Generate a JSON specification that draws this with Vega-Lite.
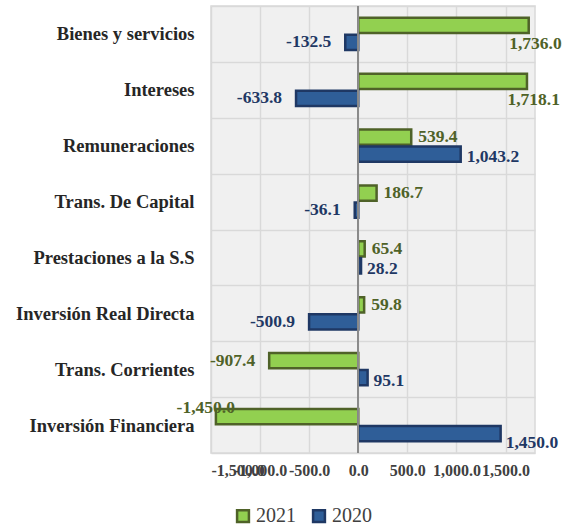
{
  "$schema": "https://vega.github.io/schema/vega-lite/v6.json",
  "width": 324,
  "height": 447,
  "autosize": {"type": "none"},
  "padding": {"left": 211, "top": 6, "right": 40, "bottom": 74},
  "background": "white",
  "config": {
    "font": "Liberation Serif",
    "locale": {"number": {"decimal": ".", "thousands": ",", "grouping": [3], "currency": ["$", ""], "minus": "-"}}
  },
  "view": {"fill": "#f0f0f0", "stroke": "#d9d9d9", "strokeWidth": 1.5},
  "data": {
    "values": [
      {"cat": "Bienes y servicios", "year": "2021", "value": 1736.0},
      {"cat": "Bienes y servicios", "year": "2020", "value": -132.5},
      {"cat": "Intereses", "year": "2021", "value": 1718.1},
      {"cat": "Intereses", "year": "2020", "value": -633.8},
      {"cat": "Remuneraciones", "year": "2021", "value": 539.4},
      {"cat": "Remuneraciones", "year": "2020", "value": 1043.2},
      {"cat": "Trans. De Capital", "year": "2021", "value": 186.7},
      {"cat": "Trans. De Capital", "year": "2020", "value": -36.1},
      {"cat": "Prestaciones a la S.S", "year": "2021", "value": 65.4},
      {"cat": "Prestaciones a la S.S", "year": "2020", "value": 28.2},
      {"cat": "Inversión Real Directa", "year": "2021", "value": 59.8},
      {"cat": "Inversión Real Directa", "year": "2020", "value": -500.9},
      {"cat": "Trans. Corrientes", "year": "2021", "value": -907.4},
      {"cat": "Trans. Corrientes", "year": "2020", "value": 95.1},
      {"cat": "Inversión Financiera", "year": "2021", "value": -1450.0},
      {"cat": "Inversión Financiera", "year": "2020", "value": 1450.0}
    ]
  },
  "encoding": {
    "y": {
      "field": "cat", "type": "nominal", "sort": null,
      "scale": {"paddingInner": 0, "paddingOuter": 0},
      "axis": {
        "title": null, "ticks": false, "domain": false, "grid": true, "tickBand": "extent",
        "gridColor": "#d9d9d9", "gridWidth": 1.5,
        "labelFont": "Liberation Serif", "labelFontWeight": "bold", "labelFontSize": 18.5,
        "labelColor": "#262626", "labelPadding": 17, "labelLimit": 300
      }
    },
    "yOffset": {
      "field": "year", "type": "nominal", "sort": ["2021", "2020"],
      "scale": {"paddingInner": 0.1, "paddingOuter": 0.7}
    }
  },
  "layer": [
    {
      "mark": {"type": "bar", "strokeWidth": 2.5},
      "encoding": {
        "x": {
          "field": "value", "type": "quantitative",
          "scale": {"domain": [-1500, 1800], "nice": false, "zero": false},
          "axis": {
            "title": null, "values": [-1500, -1000, -500, 0, 500, 1000, 1500], "format": ",.1f",
            "ticks": false, "domain": false, "grid": true, "gridColor": "#d9d9d9", "gridWidth": 1.5,
            "labelFont": "Liberation Serif", "labelFontWeight": "bold", "labelFontSize": 16,
            "labelColor": "#404040", "labelPadding": 9, "labelOverlap": false, "labelBound": false
          }
        },
        "fill": {
          "field": "year", "type": "nominal",
          "scale": {"domain": ["2021", "2020"], "range": ["#92d050", "#2f5e98"]},
          "legend": {
            "title": null, "orient": "none", "legendX": 22, "legendY": 500, "direction": "horizontal",
            "symbolType": "square", "symbolSize": 140, "symbolStrokeWidth": 2.5,
            "labelFont": "Liberation Serif", "labelFontSize": 20, "labelColor": "#404040",
            "columnPadding": 12, "labelOffset": 3
          }
        },
        "stroke": {
          "field": "year", "type": "nominal",
          "scale": {"domain": ["2021", "2020"], "range": ["#4f6228", "#1f3864"]},
          "legend": null
        }
      }
    },
    {
      "mark": {"type": "rule", "color": "#8c8c8c", "strokeWidth": 1},
      "encoding": {"x": {"datum": 0}, "y": null, "yOffset": null}
    },
    {
      "transform": [{"filter": "datum.value >= 0 && datum.value < 1400 && datum.year === '2021'"}],
      "mark": {"type": "text", "align": "left", "baseline": "middle", "dx": 7, "dy": 0, "font": "Liberation Serif", "fontWeight": "bold", "fontSize": 17.5, "color": "#4f6228"},
      "encoding": {
        "x": {"field": "value", "type": "quantitative"},
        "text": {"field": "value", "type": "quantitative", "format": ",.1f"}
      }
    },
    {
      "transform": [{"filter": "datum.value >= 0 && datum.value < 1400 && datum.year === '2020'"}],
      "mark": {"type": "text", "align": "left", "baseline": "middle", "dx": 6, "dy": 3, "font": "Liberation Serif", "fontWeight": "bold", "fontSize": 17.5, "color": "#1f3864"},
      "encoding": {
        "x": {"field": "value", "type": "quantitative"},
        "text": {"field": "value", "type": "quantitative", "format": ",.1f"}
      }
    },
    {
      "transform": [{"filter": "datum.value < 0 && datum.value > -1000"}],
      "mark": {"type": "text", "align": "right", "baseline": "middle", "dx": -14, "font": "Liberation Serif", "fontWeight": "bold", "fontSize": 17.5},
      "encoding": {
        "x": {"field": "value", "type": "quantitative"},
        "text": {"field": "value", "type": "quantitative", "format": ",.1f"},
        "color": {"condition": {"test": "datum.year === '2021'", "value": "#4f6228"}, "value": "#1f3864"}
      }
    },
    {
      "transform": [{"filter": "datum.value >= 1600"}],
      "mark": {"type": "text", "align": "right", "baseline": "middle", "dx": 33, "dy": 19, "font": "Liberation Serif", "fontWeight": "bold", "fontSize": 17.5},
      "encoding": {
        "x": {"field": "value", "type": "quantitative"},
        "text": {"field": "value", "type": "quantitative", "format": ",.1f"},
        "color": {"value": "#4f6228"}
      }
    },
    {
      "transform": [{"filter": "datum.value >= 1400 && datum.value < 1600"}],
      "mark": {"type": "text", "align": "left", "baseline": "middle", "dx": 5, "dy": 9, "font": "Liberation Serif", "fontWeight": "bold", "fontSize": 17.5},
      "encoding": {
        "x": {"field": "value", "type": "quantitative"},
        "text": {"field": "value", "type": "quantitative", "format": ",.1f"},
        "color": {"value": "#1f3864"}
      }
    },
    {
      "transform": [{"filter": "datum.value <= -1000"}],
      "mark": {"type": "text", "align": "right", "baseline": "middle", "dx": 19, "dy": -9, "font": "Liberation Serif", "fontWeight": "bold", "fontSize": 17.5},
      "encoding": {
        "x": {"field": "value", "type": "quantitative"},
        "text": {"field": "value", "type": "quantitative", "format": ",.1f"},
        "color": {"value": "#4f6228"}
      }
    }
  ]
}
